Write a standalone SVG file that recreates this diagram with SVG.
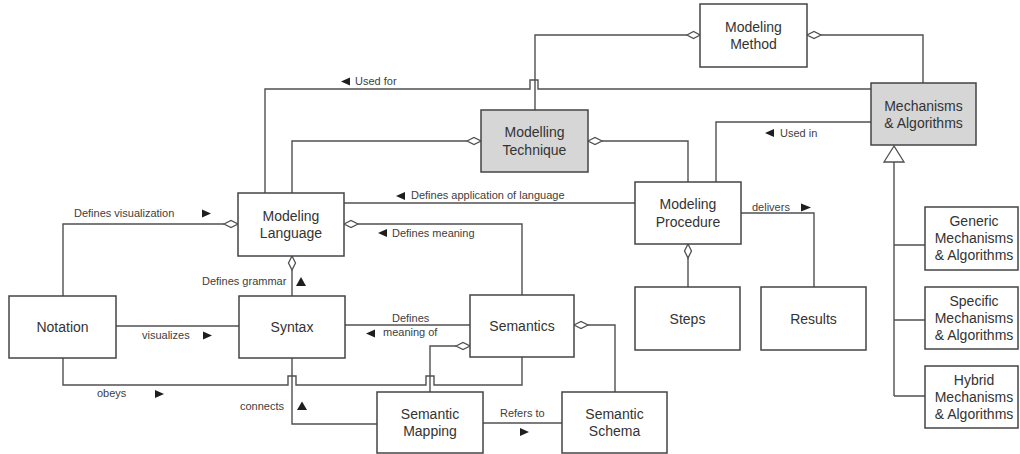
<svg xmlns="http://www.w3.org/2000/svg" width="1020" height="454" viewBox="0 0 1020 454">
<style>
.box{fill:#fff;stroke:#444;stroke-width:1.5}
.gray{fill:#d6d6d6}
.ln{fill:none;stroke:#505050;stroke-width:1.4}
.dia{fill:#fff;stroke:#505050;stroke-width:1.3}
.tri{fill:#1e1e1e}
.nt{font-family:"Liberation Sans",Arial,sans-serif;font-size:14px;fill:#333;text-anchor:middle}
.lb{font-family:"Liberation Sans",Arial,sans-serif;font-size:11px;fill:#404040}
</style>
<rect width="1020" height="454" fill="#fff"/>
<g id="connectors">
<path class="ln" d="M535,110 V35 H687"/>
<path class="ln" d="M821,35 H923 V83"/>
<path class="ln" d="M871,89 H538 V80 H530 V89 H265 V193"/>
<path class="ln" d="M467,141 H292 V193"/>
<path class="ln" d="M602,141 H688 V182"/>
<path class="ln" d="M871,122 H716 V182"/>
<path class="ln" d="M894,162 V396 M894,245 H925 M894,320 H925 M894,396 H925"/>
<path class="ln" d="M741,213 H814 V287"/>
<path class="ln" d="M688,258 V287"/>
<path class="ln" d="M344,203 H635"/>
<path class="ln" d="M224,224 H63 V296"/>
<path class="ln" d="M358,224 H522 V295"/>
<path class="ln" d="M292,270 V296"/>
<path class="ln" d="M116,326 H239"/>
<path class="ln" d="M345,325 H470"/>
<path class="ln" d="M63,358 V385 H288 V376 H296 V385 H426 V376 H434 V385 H522 V357"/>
<path class="ln" d="M292,358 V424 H377"/>
<path class="ln" d="M456,346 H430 V392"/>
<path class="ln" d="M588,325 H615 V392"/>
<path class="ln" d="M483,423 H562"/>
<polygon class="dia" points="687,35 693.5,31.5 700,35 693.5,38.5"/>
<polygon class="dia" points="807,35 814,31.5 821,35 814,38.5"/>
<polygon class="dia" points="467,141 474,137.5 481,141 474,144.5"/>
<polygon class="dia" points="588,141 595,137.5 602,141 595,144.5"/>
<polygon class="dia" points="224,224 231,220.5 238,224 231,227.5"/>
<polygon class="dia" points="344,224 351,220.5 358,224 351,227.5"/>
<polygon class="dia" points="292,256 295.5,263 292,270 288.5,263"/>
<polygon class="dia" points="688,244 691.5,251 688,258 684.5,251"/>
<polygon class="dia" points="456,346 463,342.5 470,346 463,349.5"/>
<polygon class="dia" points="574,325 581,321.5 588,325 581,328.5"/>
<polygon class="dia" points="894,146 884,162 904,162"/>
</g>
<g id="arrows-labels">
<polygon class="tri" points="341,81.5 350,77.5 350,85.5"/>
<polygon class="tri" points="396,196 405,192 405,200"/>
<polygon class="tri" points="378,233 387,229 387,237"/>
<polygon class="tri" points="765,133 774,129 774,137"/>
<polygon class="tri" points="811,207.5 801,203.5 801,211.5"/>
<polygon class="tri" points="211,213.5 202,209.5 202,217.5"/>
<polygon class="tri" points="301,277 296,286 306,286"/>
<polygon class="tri" points="212,335.5 203,331.5 203,339.5"/>
<polygon class="tri" points="164,394 155,390 155,398"/>
<polygon class="tri" points="302,401.5 297,410 307,410"/>
<polygon class="tri" points="366,333.5 375,329.5 375,337.5"/>
<polygon class="tri" points="529,432 520,428 520,436"/>
<text class="lb" x="355" y="85">Used for</text>
<text class="lb" x="411" y="199">Defines application of language</text>
<text class="lb" x="392" y="237">Defines meaning</text>
<text class="lb" x="780" y="137">Used in</text>
<text class="lb" x="752" y="211">delivers</text>
<text class="lb" x="74" y="216.5">Defines visualization</text>
<text class="lb" x="202" y="284.5">Defines grammar</text>
<text class="lb" x="142" y="338.5">visualizes</text>
<text class="lb" x="97" y="397">obeys</text>
<text class="lb" x="240" y="409.5">connects</text>
<text class="lb" x="392" y="322">Defines</text>
<text class="lb" x="383" y="336">meaning of</text>
<text class="lb" x="500" y="417">Refers to</text>
</g>
<g id="modeling-method"><rect class="box" x="700" y="4" width="107" height="63"/><text class="nt" x="753.5" y="31.5">Modeling</text><text class="nt" x="753.5" y="49">Method</text></g>
<g id="mechanisms"><rect class="box gray" x="871" y="83" width="105" height="62"/><text class="nt" x="923.5" y="110.5">Mechanisms</text><text class="nt" x="923.5" y="128">&amp; Algorithms</text></g>
<g id="modelling-technique"><rect class="box gray" x="481" y="110" width="107" height="62"/><text class="nt" x="534.5" y="137">Modelling</text><text class="nt" x="534.5" y="154.5">Technique</text></g>
<g id="modeling-language"><rect class="box" x="238" y="193" width="106" height="63"/><text class="nt" x="291" y="220.5">Modeling</text><text class="nt" x="291" y="238">Language</text></g>
<g id="modeling-procedure"><rect class="box" x="635" y="182" width="106" height="62"/><text class="nt" x="688" y="209">Modeling</text><text class="nt" x="688" y="226.5">Procedure</text></g>
<g id="notation"><rect class="box" x="9" y="296" width="107" height="62"/><text class="nt" x="62.5" y="332">Notation</text></g>
<g id="syntax"><rect class="box" x="239" y="296" width="106" height="62"/><text class="nt" x="292" y="332">Syntax</text></g>
<g id="semantics"><rect class="box" x="470" y="295" width="104" height="62"/><text class="nt" x="522" y="331">Semantics</text></g>
<g id="steps"><rect class="box" x="635" y="287" width="105" height="63"/><text class="nt" x="687.5" y="323.5">Steps</text></g>
<g id="results"><rect class="box" x="761" y="287" width="105" height="63"/><text class="nt" x="813.5" y="323.5">Results</text></g>
<g id="semantic-mapping"><rect class="box" x="377" y="392" width="106" height="61"/><text class="nt" x="430" y="419">Semantic</text><text class="nt" x="430" y="436">Mapping</text></g>
<g id="semantic-schema"><rect class="box" x="562" y="392" width="105" height="61"/><text class="nt" x="614.5" y="419">Semantic</text><text class="nt" x="614.5" y="436">Schema</text></g>
<g id="generic"><rect class="box" x="925" y="207" width="93" height="63"/><text class="nt" x="974" y="226">Generic</text><text class="nt" x="974" y="243">Mechanisms</text><text class="nt" x="974" y="260">&amp; Algorithms</text></g>
<g id="specific"><rect class="box" x="925" y="287" width="93" height="62"/><text class="nt" x="974" y="305.5">Specific</text><text class="nt" x="974" y="322.5">Mechanisms</text><text class="nt" x="974" y="339.5">&amp; Algorithms</text></g>
<g id="hybrid"><rect class="box" x="925" y="366" width="93" height="62"/><text class="nt" x="974" y="384.5">Hybrid</text><text class="nt" x="974" y="401.5">Mechanisms</text><text class="nt" x="974" y="418.5">&amp; Algorithms</text></g>
</svg>
